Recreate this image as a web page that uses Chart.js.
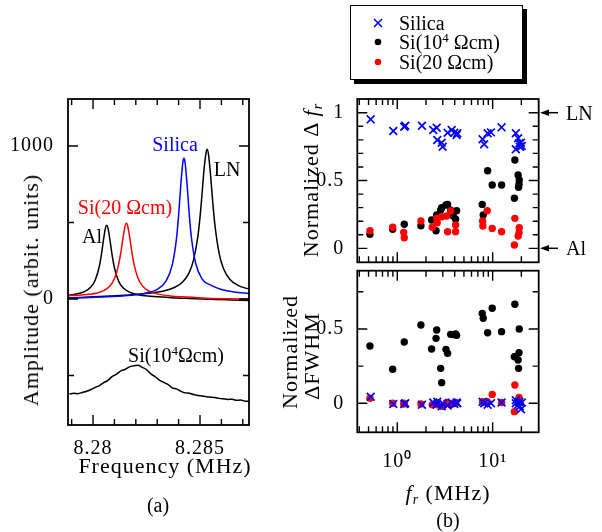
<!DOCTYPE html>
<html>
<head>
<meta charset="utf-8">
<script src="https://cdn.jsdelivr.net/npm/chart.js@4.4.1/dist/chart.umd.min.js"></script>
<style>
  html, body { margin: 0; padding: 0; background: #fff; }
  #wrap { position: relative; width: 602px; height: 532px; overflow: hidden;
          font-family: 'Liberation Serif', 'Times New Roman', serif; color: #000; }
  #wrap canvas { position: absolute; left: 0; top: 0; }
  .t { position: absolute; white-space: nowrap; font-size: 20px; line-height: 1;
       transform: translate(-50%, -50%); }
  .l { position: absolute; white-space: nowrap; font-size: 20px; line-height: 1;
       transform: translate(0, -50%); }
  .rot { transform: translate(-50%, -50%) rotate(-90deg); }
  .big { font-size: 22px; letter-spacing: 1px; }
  sup { font-size: 13px; vertical-align: 7px; line-height: 0; }
  sub { font-size: 14px; vertical-align: -4px; line-height: 0; }
  #legend { position: absolute; left: 350px; top: 5px; width: 171px; height: 73px;
            border: 1.5px solid #000; background: #fff; box-shadow: 4px 4px 0 #000; }
</style>
</head>
<body>
<div id="wrap">
  <canvas id="chartA" width="602" height="532"></canvas>
  <canvas id="chartB1" width="602" height="532"></canvas>
  <canvas id="chartB2" width="602" height="532"></canvas>

  <!-- panel (a) labels -->
  <div class="t" style="left:175px;top:144px;color:#0000ff">Silica</div>
  <div class="t" style="left:227px;top:169px">LN</div>
  <div class="t" style="left:125px;top:207px;color:#ff0000">Si(20 Ωcm)</div>
  <div class="t" style="left:92px;top:236px">Al</div>
  <div class="t" style="left:176px;top:355px">Si(10<sup>4</sup>Ωcm)</div>
  <div class="t big rot" style="left:31px;top:290px">Amplitude (arbit. units)</div>
  <div class="t big" style="left:165px;top:466px">Frequency (MHz)</div>
  <div class="t" style="left:158px;top:505px">(a)</div>

  <!-- panel (b) labels -->
  <div class="t big rot" style="left:311px;top:180px">Normalized Δ <i>f</i><sub><i>r</i></sub></div>
  <div class="t big rot" style="left:290px;top:352px">Normalized</div>
  <div class="t big rot" style="left:312px;top:356px">ΔFWHM</div>
  <div class="t big" style="left:448px;top:493px"><i>f</i><sub><i>r</i></sub> (MHz)</div>
  <div class="t" style="left:448px;top:520px">(b)</div>
  <div class="l" style="left:566px;top:113px">LN</div>
  <div class="l" style="left:566px;top:248px">Al</div>

  <div id="legend"></div>
  <div class="l" style="left:399px;top:23px">Silica</div>
  <div class="l" style="left:399px;top:42px">Si(10<sup>4</sup> Ωcm)</div>
  <div class="l" style="left:399px;top:62px">Si(20 Ωcm)</div>

  <svg width="602" height="532" style="position:absolute;left:0;top:0;pointer-events:none">
    <line x1="374" y1="19" x2="382" y2="27" stroke="#0000ff" stroke-width="1.6"/>
    <line x1="374" y1="27" x2="382" y2="19" stroke="#0000ff" stroke-width="1.6"/>
    <circle cx="378" cy="42" r="3.3" fill="#000"/>
    <circle cx="378" cy="62" r="3.3" fill="#ff0000"/>
    <line x1="547" y1="112.7" x2="558" y2="112.7" stroke="#000" stroke-width="1.5"/>
    <polygon points="540,112.7 549,109.5 549,116" fill="#000"/>
    <line x1="547" y1="248.3" x2="558" y2="248.3" stroke="#000" stroke-width="1.5"/>
    <polygon points="540,248.3 549,245.1 549,251.5" fill="#000"/>
  </svg>
</div>

<script>
// ---- panel (a): resonance spectra ----
const alFreq = [8.2788, 8.2792, 8.2796, 8.2799, 8.2801, 8.2803, 8.2804, 8.2805, 8.28058, 8.28064, 8.2807, 8.2808,
  8.2809, 8.2810, 8.2812, 8.2814, 8.2817, 8.2821, 8.2827, 8.2835, 8.2845, 8.2857, 8.2865, 8.2873];
const alAmp = [24, 32, 48, 78, 122, 217, 298, 397, 463, 481, 463, 377, 280, 204, 115, 73, 45, 28, 18, 10, 3, -4, -7, -10];

const siLowFreq = [8.2788, 8.2793, 8.2798, 8.2802, 8.2806, 8.2809, 8.2811, 8.2813, 8.2814, 8.2815, 8.28156, 8.2816,
  8.2817, 8.2818, 8.2819, 8.2821, 8.2823, 8.2826, 8.2830, 8.2836, 8.2844, 8.2853, 8.2863, 8.2873];
const siLowAmp = [21, 24, 30, 39, 62, 105, 170, 303, 398, 478, 494, 486, 417, 320, 238, 137, 87, 52, 33, 20, 12, 5, 1, -1];

const silicaFreq = [8.2788, 8.2796, 8.2804, 8.2812, 8.2818, 8.2824, 8.2830, 8.2834, 8.2837, 8.2839, 8.2840, 8.2841,
  8.2842, 8.28425, 8.2843, 8.2844, 8.2845, 8.2846, 8.2848, 8.2851, 8.2855, 8.2860, 8.2866, 8.2873];
const silicaAmp = [5, 8, 12, 18, 24, 36, 63, 115, 221, 394, 548, 740, 895, 920, 895, 740, 548, 400, 232, 130, 90, 62, 45, 36];

const lnFreq = [8.2788, 8.2798, 8.2808, 8.2818, 8.2826, 8.2833, 8.2838, 8.2842, 8.2845, 8.2847, 8.2849, 8.2850, 8.2851,
  8.2852, 8.2853, 8.28533, 8.2854, 8.2855, 8.2856, 8.2857, 8.2859, 8.2861, 8.2864, 8.2868, 8.2873];
const lnAmp = [6, 12, 19, 27, 37, 52, 75, 113, 174, 255, 409, 533, 694, 863, 968, 978, 942, 798, 626, 480, 293, 197, 127, 87, 64];

const siHighFreq = [8.2789, 8.2791, 8.2793, 8.2795, 8.2797, 8.2799, 8.2801, 8.2803, 8.2805, 8.2807, 8.2809, 8.2811,
  8.2813, 8.2815, 8.2817, 8.2819, 8.2821, 8.2823, 8.2825, 8.2827, 8.2829, 8.2831, 8.2833, 8.2835, 8.2837, 8.2839,
  8.2841, 8.2843, 8.2845, 8.2847, 8.2849, 8.2851, 8.2853, 8.2855, 8.2857, 8.2859, 8.2861, 8.2863, 8.2865, 8.2867,
  8.2869, 8.2871, 8.2873];
const siHighAmp = [-621, -617, -619, -611, -603, -592, -578, -566, -547, -532, -506, -492, -470, -461, -444, -437, -434,
  -447, -462, -490, -508, -530, -545, -559, -581, -588, -603, -614, -616, -625, -631, -634, -639, -642, -645, -650,
  -653, -657, -655, -663, -661, -668, -670];

const aFreqTicks = [8.28, 8.285];
const aFreqLabels = ['8.28', '8.285'];
const aFreqMinor = [8.279, 8.281, 8.282, 8.283, 8.284, 8.286, 8.287];
const aAmpTicks = [0, 1000];
const aAmpLabels = ['0', '1000'];
const aAmpMinor = [-500, 500];

// ---- panel (b): normalized shift and width vs resonance frequency ----
const silicaFr = [0.526, 0.908, 1.184, 1.213, 1.815, 2.385, 2.59, 2.625, 2.92, 2.99, 3.37, 3.72, 3.96, 4.19, 4.25,
  7.85, 8.16, 8.86, 9.6, 12.4, 17.5, 18.5, 17.5, 19.0, 19.3, 19.8, 20.2];
const silicaDf = [0.951, 0.865, 0.897, 0.904, 0.904, 0.872, 0.889, 0.799, 0.779, 0.749, 0.852, 0.872, 0.852, 0.836,
  0.848, 0.804, 0.767, 0.848, 0.855, 0.892, 0.848, 0.811, 0.730, 0.774, 0.749, 0.779, 0.754];
const silicaDw = [0.044, -0.005, -0.005, 0.0, -0.01, 0.005, -0.01, 0.01, -0.02, 0.0, -0.015, 0.005, -0.005, 0.005,
  0.0, 0.01, 0.0, -0.01, 0.0, 0.005, 0.02, -0.01, 0.0, 0.01, -0.02, -0.04, 0.005];

const siHighFr = [0.517, 0.895, 1.184, 1.77, 2.29, 2.55, 2.59, 2.85, 2.92, 3.24, 3.37, 3.63, 3.86, 4.09, 4.19, 7.78,
  7.97, 8.86, 9.9, 12.4, 17.1, 16.9, 18.5, 19.0, 18.9, 18.7];
const siHighDf = [0.103, 0.140, 0.177, 0.167, 0.209, 0.130, 0.246, 0.282, 0.300, 0.319, 0.324, 0.282, 0.238, 0.214,
  0.277, 0.324, 0.246, 0.572, 0.467, 0.467, 0.651, 0.369, 0.541, 0.504, 0.472, 0.450];
const siHighDw = [0.385, 0.229, 0.412, 0.527, 0.365, 0.437, 0.493, 0.235, 0.139, 0.363, 0.336, 0.464, 0.462, 0.466,
  0.457, 0.605, 0.572, 0.475, 0.639, 0.482, 0.666, 0.313, 0.291, 0.500, 0.340, 0.235];

const siLowFr = [0.517, 0.895, 1.167, 1.184, 1.77, 2.33, 2.59, 2.62, 2.92, 3.29, 3.37, 3.63, 4.09, 4.09, 7.85, 7.9,
  8.77, 9.9, 12.4, 17.1, 16.9, 19.0, 18.9, 18.5];
const siLowDf = [0.130, 0.155, 0.118, 0.078, 0.201, 0.155, 0.221, 0.189, 0.233, 0.238, 0.122, 0.275, 0.172, 0.122,
  0.201, 0.164, 0.277, 0.147, 0.122, 0.221, 0.024, 0.152, 0.115, 0.091];
const siLowDw = [0.034, 0.0, -0.005, 0.0, -0.005, -0.01, 0.005, -0.01, -0.02, 0.005, 0.0, -0.01, 0.005, 0.0, 0.01,
  0.005, 0.01, 0.06, 0.005, 0.123, -0.056, 0.02, 0.04, 0.0];

const bFrTicks = [1, 10];
const bFrLabels = ['10⁰', '10¹'];
const bFrMinor = [0.4, 0.5, 0.6, 0.7, 0.8, 0.9, 2, 3, 4, 5, 6, 7, 8, 9, 20, 30];
const bDfTicks = [0, 0.5, 1];
const bDfLabels = ['0', '0.5', '1'];
const bDfMinor = [0.1, 0.2, 0.3, 0.4, 0.6, 0.7, 0.8, 0.9];
const bDwTicks = [0, 0.5];
const bDwLabels = ['0', '0.5'];
const bDwMinor = [0.25, 0.75];

Chart.defaults.font.family = "'Liberation Serif', 'Times New Roman', serif";
Chart.defaults.font.size = 20;
Chart.defaults.color = '#000';

// box round the plot area and inward tick marks on all four sides
const frameTicks = {
  id: 'frameTicks',
  beforeDraw(chart) {
    chart.ctx.letterSpacing = '1px';
  },
  afterDatasetsDraw(chart, args, o) {
    const { ctx, chartArea: a, scales } = chart;
    const x = scales.x, y = scales.y;
    ctx.save();
    ctx.strokeStyle = '#000';
    ctx.lineWidth = 1.4;
    ctx.beginPath();
    const xs = [].concat(o.xMajor.map(v => [v, 10]), o.xMinor.map(v => [v, 6]));
    xs.forEach(([v, len]) => {
      const px = x.getPixelForValue(v);
      if (px < a.left + 1 || px > a.right - 1) return;
      ctx.moveTo(px, a.bottom); ctx.lineTo(px, a.bottom - len);
      ctx.moveTo(px, a.top); ctx.lineTo(px, a.top + len);
    });
    const ys = [].concat(o.yMajor.map(v => [v, 10]), o.yMinor.map(v => [v, 6]));
    ys.forEach(([v, len]) => {
      const py = y.getPixelForValue(v);
      if (py < a.top + 1 || py > a.bottom - 1) return;
      ctx.moveTo(a.left, py); ctx.lineTo(a.left + len, py);
      ctx.moveTo(a.right, py); ctx.lineTo(a.right - len, py);
    });
    ctx.stroke();
    ctx.lineWidth = 1.8;
    ctx.strokeRect(a.left, a.top, a.width, a.height);
    ctx.restore();
  }
};

function fixY(w) {
  return s => { s.width = w; s.paddingTop = 0; s.paddingBottom = 0; };
}
function fixX(h) {
  return s => { s.height = h; s.paddingLeft = 0; s.paddingRight = 0; };
}
function setTicks(vals) {
  return s => { s.ticks = vals.map(v => ({ value: v })); };
}
function toXY(xs, ys) {
  return xs.map((v, i) => ({ x: v, y: ys[i] }));
}
function lineSet(xs, ys, color) {
  return { data: toXY(xs, ys), showLine: true, borderColor: color, borderWidth: 1.5, pointRadius: 0,
           cubicInterpolationMode: 'monotone' };
}
function crossSet(xs, ys) {
  return { data: toXY(xs, ys), pointStyle: 'crossRot', pointRadius: 5.5, borderColor: '#0000ff',
           pointBorderWidth: 1.7, backgroundColor: '#0000ff' };
}
function dotSet(xs, ys, color) {
  return { data: toXY(xs, ys), pointStyle: 'circle', pointRadius: 3.7, borderWidth: 0,
           backgroundColor: color, borderColor: color };
}
const baseOpts = {
  responsive: false,
  animation: false,
  events: [],
};

new Chart(document.getElementById('chartA'), {
  type: 'scatter',
  data: {
    datasets: [
      lineSet(silicaFreq, silicaAmp, '#0000ff'),
      lineSet(siLowFreq, siLowAmp, '#ff0000'),
      lineSet(lnFreq, lnAmp, '#000000'),
      lineSet(alFreq, alAmp, '#000000'),
      lineSet(siHighFreq, siHighAmp, '#000000'),
    ]
  },
  plugins: [frameTicks],
  options: {
    ...baseOpts,
    layout: { padding: { left: 0, right: 353, top: 99, bottom: 67 } },
    plugins: {
      legend: { display: false },
      tooltip: { enabled: false },
      frameTicks: { xMajor: aFreqTicks, xMinor: aFreqMinor, yMajor: aAmpTicks, yMinor: aAmpMinor }
    },
    scales: {
      x: {
        type: 'linear', min: 8.27883, max: 8.28729,
        grid: { display: false }, border: { display: false },
        ticks: { padding: 4, maxRotation: 0, autoSkip: false, callback: (v, i) => aFreqLabels[i] },
        afterBuildTicks: setTicks(aFreqTicks), afterFit: fixX(40)
      },
      y: {
        min: -824, max: 1307,
        grid: { display: false }, border: { display: false },
        ticks: { padding: 6, autoSkip: false, callback: (v, i) => aAmpLabels[i] },
        afterBuildTicks: setTicks(aAmpTicks), afterFit: fixY(68)
      }
    }
  }
});

new Chart(document.getElementById('chartB1'), {
  type: 'scatter',
  data: {
    datasets: [
      crossSet(silicaFr, silicaDf),
      dotSet(siLowFr, siLowDf, '#ff0000'),
      dotSet(siHighFr, siHighDf, '#000000'),
    ]
  },
  plugins: [frameTicks],
  options: {
    ...baseOpts,
    layout: { padding: { left: 297.3, right: 63.3, top: 99, bottom: 269.7 } },
    plugins: {
      legend: { display: false },
      tooltip: { enabled: false },
      frameTicks: { xMajor: bFrTicks, xMinor: bFrMinor, yMajor: bDfTicks, yMinor: bDfMinor }
    },
    scales: {
      x: {
        type: 'logarithmic', min: 0.381, max: 30.4, display: false,
        afterBuildTicks: setTicks(bFrTicks), afterFit: fixX(0)
      },
      y: {
        min: -0.103, max: 1.101,
        grid: { display: false }, border: { display: false },
        ticks: { padding: 5, autoSkip: false, callback: (v, i) => bDfLabels[i] },
        afterBuildTicks: setTicks(bDfTicks), afterFit: fixY(60)
      }
    }
  }
});

new Chart(document.getElementById('chartB2'), {
  type: 'scatter',
  data: {
    datasets: [
      crossSet(silicaFr, silicaDw),
      dotSet(siLowFr, siLowDw, '#ff0000'),
      dotSet(siHighFr, siHighDw, '#000000'),
    ]
  },
  plugins: [frameTicks],
  options: {
    ...baseOpts,
    layout: { padding: { left: 297.3, right: 63.3, top: 270.7, bottom: 59.7 } },
    plugins: {
      legend: { display: false },
      tooltip: { enabled: false },
      frameTicks: { xMajor: bFrTicks, xMinor: bFrMinor, yMajor: bDwTicks, yMinor: bDwMinor }
    },
    scales: {
      x: {
        type: 'logarithmic', min: 0.381, max: 30.4,
        grid: { display: false }, border: { display: false },
        ticks: { padding: 9, maxRotation: 0, autoSkip: false, callback: (v, i) => bFrLabels[i] },
        afterBuildTicks: setTicks(bFrTicks), afterFit: fixX(40)
      },
      y: {
        min: -0.195, max: 0.892,
        grid: { display: false }, border: { display: false },
        ticks: { padding: 5, autoSkip: false, callback: (v, i) => bDwLabels[i] },
        afterBuildTicks: setTicks(bDwTicks), afterFit: fixY(60)
      }
    }
  }
});
</script>
</body>
</html>
